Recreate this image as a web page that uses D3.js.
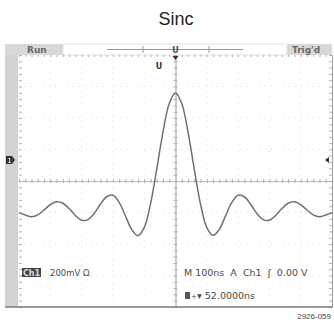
<!DOCTYPE html>
<html>
<head>
<meta charset="utf-8">
<script src="https://cdn.jsdelivr.net/npm/d3@7"></script>
<style>
  body { margin: 0; background: #fff; }
  svg { display: block; }
  .scope text { font-family: "DejaVu Sans", Verdana, sans-serif; fill: #4a4a4a; }
</style>
</head>
<body>
<script>
var timeNs = [-500, -480, -460, -440, -420, -400, -380, -360, -340, -320, -300, -280, -260, -240, -220, -200, -180, -160, -140, -120, -100, -80, -60, -40, -20,
  0, 20, 40, 60, 80, 100, 120, 140, 160, 180, 200, 220, 240, 260, 280, 300, 320, 340, 360, 380, 400, 420, 440, 460, 480, 500];
var ch1mV = [-334, -349, -360, -348, -317, -283, -265, -274, -308, -352, -382, -378, -340, -281, -233, -224, -269, -354, -440, -480, -429, -280, -58, 178, 359,
  426, 359, 178, -58, -280, -429, -478, -440, -354, -269, -224, -233, -281, -340, -378, -382, -352, -308, -274, -265, -283, -317, -348, -360, -349, -334];
var xDivs = [-500, -400, -300, -200, -100, 0, 100, 200, 300, 400, 500];
var yDivs = [-933, -733, -533, -333, -133, 67, 267, 467, 667];
var title = "Sinc";
var ch1Label = "Ch1", ch1Scale = "200mV \u03a9";
var horizLabel = "M 100ns  A  Ch1  \u0283  0.00 V";
var delayLabel = "\u25be 52.0000ns";
var figNo = "2926-059";

var width = 334, height = 325;
var gLeft = 19, gRight = 332, gTop = 55, gBottom = 307;

var svg = d3.select("body").append("svg").attr("width", width).attr("height", height);

var x = d3.scaleLinear().domain([-500, 500]).range([gLeft, gRight]);
var y = d3.scaleLinear().domain([-933, 667]).range([gBottom, gTop]);
var cx = x(0), cy = y(-133);

// title
svg.append("text").attr("x", 176).attr("y", 25).attr("text-anchor", "middle")
  .style("font-family", "Liberation Sans, Arial, sans-serif").style("font-size", "18px").style("fill", "#222")
  .text(title);

var scope = svg.append("g").attr("class", "scope");

// left grey bezel
scope.append("rect").attr("x", 5).attr("y", 44).attr("width", 13).attr("height", gBottom - 44).attr("fill", "#d2d2d2");
// top status bar
scope.append("rect").attr("x", 5).attr("y", 44).attr("width", 58).attr("height", 11).attr("fill", "#d8d8d8");
scope.append("rect").attr("x", 287).attr("y", 44).attr("width", gRight - 287).attr("height", 11).attr("fill", "#d8d8d8");
scope.append("rect").attr("x", 63).attr("y", 44).attr("width", 224).attr("height", 11).attr("fill", "#fff").attr("stroke", "#e2e2e2");
scope.append("text").attr("x", 27).attr("y", 53).style("font-size", "9px").style("font-weight", "bold").style("fill", "#6a6a6a").text("Run");
scope.append("text").attr("x", 292).attr("y", 53).style("font-size", "9px").style("font-weight", "bold").style("fill", "#6a6a6a").text("Trig'd");
// record view line
scope.append("line").attr("x1", 107).attr("x2", 243).attr("y1", 49.5).attr("y2", 49.5).attr("stroke", "#999");
[143, 209].forEach(function (d) {
  scope.append("line").attr("x1", d).attr("x2", d).attr("y1", 46).attr("y2", 53).attr("stroke", "#999");
});
scope.append("text").attr("x", cx).attr("y", 53).attr("text-anchor", "middle").style("font-size", "8px").style("font-weight", "bold").text("U");

// graticule dotted grid
var grid = scope.append("g");
grid.selectAll("line.v").data(xDivs.slice(1, -1)).enter().append("line")
  .attr("x1", function (d) { return x(d); }).attr("x2", function (d) { return x(d); })
  .attr("y1", gTop).attr("y2", gBottom)
  .attr("stroke", "#dcdcdc").attr("stroke-dasharray", "1,5");
grid.selectAll("line.h").data(yDivs.slice(1, -1)).enter().append("line")
  .attr("x1", gLeft).attr("x2", gRight)
  .attr("y1", function (d) { return y(d); }).attr("y2", function (d) { return y(d); })
  .attr("stroke", "#dcdcdc").attr("stroke-dasharray", "1,5");

// centre axes with minor ticks (using d3 axes)
var minorT = d3.range(-500, 501, 20);
var minorV = d3.range(-933, 668, 40);
function tickAxis(g) {
  g.selectAll(".domain").attr("stroke", "#bdbdbd");
  g.selectAll(".tick line").attr("stroke", "#b0b0b0");
  g.selectAll(".tick text").remove();
}
scope.append("g").attr("transform", "translate(0," + cy + ")")
  .call(d3.axisTop(x).tickValues(minorT).tickSize(2).tickSizeOuter(0).tickFormat("")).call(tickAxis);
scope.append("g").attr("transform", "translate(0," + cy + ")")
  .call(d3.axisBottom(x).tickValues(minorT).tickSize(2).tickSizeOuter(0).tickFormat("")).call(tickAxis);
scope.append("g").attr("transform", "translate(" + cx + ",0)")
  .call(d3.axisLeft(y).tickValues(minorV).tickSize(2).tickSizeOuter(0).tickFormat("")).call(tickAxis);
scope.append("g").attr("transform", "translate(" + cx + ",0)")
  .call(d3.axisRight(y).tickValues(minorV).tickSize(2).tickSizeOuter(0).tickFormat("")).call(tickAxis);
// edge ticks
scope.append("g").attr("transform", "translate(" + gLeft + ",0)")
  .call(d3.axisRight(y).tickValues(minorV).tickSize(3).tickSizeOuter(0).tickFormat("")).call(tickAxis)
  .selectAll(".domain").remove();
scope.append("g").attr("transform", "translate(" + gRight + ",0)")
  .call(d3.axisLeft(y).tickValues(minorV).tickSize(3).tickSizeOuter(0).tickFormat("")).call(tickAxis)
  .selectAll(".domain").attr("stroke", "#a0a0a0");
scope.append("g").attr("transform", "translate(0," + gTop + ")")
  .call(d3.axisBottom(x).tickValues(minorT).tickSize(2).tickSizeOuter(0).tickFormat("")).call(tickAxis)
  .selectAll(".domain").remove();

// bottom frame line
scope.append("line").attr("x1", 5).attr("x2", gRight).attr("y1", gBottom).attr("y2", gBottom)
  .attr("stroke", "#7a7a7a").attr("stroke-width", 1.5);

// trigger position marker
scope.append("path").attr("d", "M" + (cx - 3) + "," + (gTop + 1) + "L" + (cx + 3) + "," + (gTop + 1) + "L" + cx + "," + (gTop + 5) + "Z").attr("fill", "#333");
scope.append("text").attr("x", 159).attr("y", 69).attr("text-anchor", "middle").style("font-size", "8px").style("font-weight", "bold").style("fill", "#333").text("U");

// ground marker (ch1) and trigger level marker
var gy = y(0);
scope.append("path").attr("d", "M6," + (gy - 4) + "L12," + (gy - 4) + "L15," + gy + "L12," + (gy + 4) + "L6," + (gy + 4) + "Z").attr("fill", "#333");
scope.append("text").attr("x", 9.5).attr("y", gy + 3).attr("text-anchor", "middle").style("font-size", "7px").style("fill", "#fff").text("1");
scope.append("path").attr("d", "M" + (gRight - 7) + "," + gy + "L" + (gRight - 3) + "," + (gy - 3) + "L" + (gRight - 3) + "," + (gy + 3) + "Z").attr("fill", "#333");

// waveform
var line = d3.line()
  .x(function (d, i) { return x(timeNs[i]); })
  .y(function (d) { return y(d); })
  .curve(d3.curveCatmullRom);
scope.append("path").attr("d", line(ch1mV))
  .attr("fill", "none").attr("stroke", "#707070").attr("stroke-width", 1.5);

// readouts
scope.append("rect").attr("x", 22).attr("y", 268).attr("width", 19).attr("height", 9).attr("fill", "#444");
scope.append("text").attr("x", 31.5).attr("y", 276).attr("text-anchor", "middle").style("font-size", "8px").style("font-weight", "bold").style("fill", "#ddd").text(ch1Label);
scope.append("text").attr("x", 50).attr("y", 276).style("font-size", "8.5px").text(ch1Scale);
scope.append("text").attr("x", 184).attr("y", 276).style("font-size", "9.5px").style("white-space", "pre").text(horizLabel);
scope.append("rect").attr("x", 185).attr("y", 292).attr("width", 5).attr("height", 7).attr("fill", "#555");
scope.append("text").attr("x", 191).attr("y", 299).style("font-size", "7px").text("+");
scope.append("text").attr("x", 197).attr("y", 299).style("font-size", "9.5px").text(delayLabel);

svg.append("text").attr("x", 331).attr("y", 319).attr("text-anchor", "end")
  .style("font-family", "Liberation Sans Narrow, Liberation Sans, sans-serif").style("font-size", "8px").style("fill", "#444")
  .text(figNo);
</script>
</body>
</html>
